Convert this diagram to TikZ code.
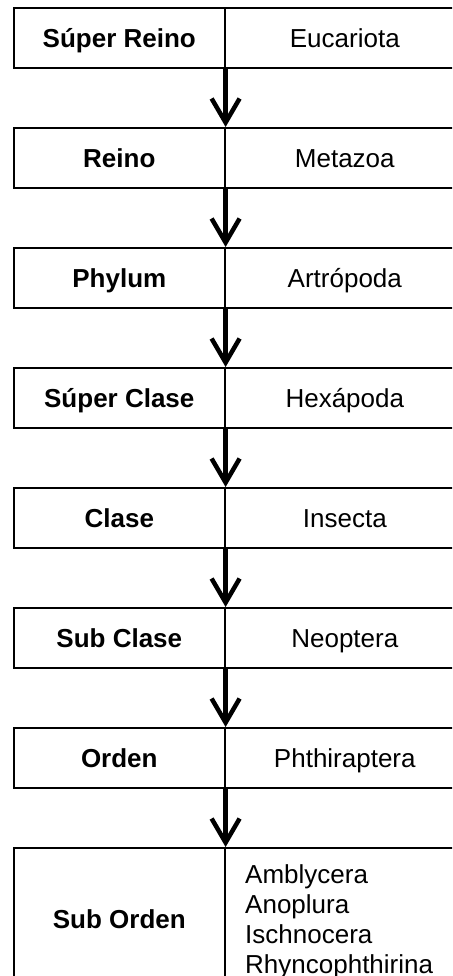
\documentclass[tikz,border=0pt]{standalone}
\usepackage{fontspec}
\setmainfont{Liberation Sans}
\usetikzlibrary{arrows.meta}
\begin{document}
\begin{tikzpicture}[x=1pt,y=1pt,
  cellL/.style={draw=black, line width=1.6pt, minimum width=211pt, minimum height=60pt, inner sep=0pt, text height=20pt, text depth=0pt, anchor=north west, font=\fontsize{26}{30}\selectfont\bfseries},
  cellR/.style={draw=black, line width=1.6pt, minimum width=240pt, minimum height=60pt, inner sep=0pt, text height=20pt, text depth=0pt, anchor=north west, font=\fontsize{26}{30}\selectfont},
  flow/.style={line width=4.5pt, -{Straight Barb[length=24pt, width=28pt, line width=4.5pt]}}]
\useasboundingbox (0,0) rectangle (452,-976);
\clip (0,0) rectangle (452,-976);
\node[cellL] (l1) at (13,-7) {Súper Reino};
\node[cellR] (r1) at (224,-7) {Eucariota};
\node[cellL] (l2) at (13,-127) {Reino};
\node[cellR] (r2) at (224,-127) {Metazoa};
\node[cellL] (l3) at (13,-247) {Phylum};
\node[cellR] (r3) at (224,-247) {Artrópoda};
\node[cellL] (l4) at (13,-367) {Súper Clase};
\node[cellR] (r4) at (224,-367) {Hexápoda};
\node[cellL] (l5) at (13,-487) {Clase};
\node[cellR] (r5) at (224,-487) {Insecta};
\node[cellL] (l6) at (13,-607) {Sub Clase};
\node[cellR] (r6) at (224,-607) {Neoptera};
\node[cellL] (l7) at (13,-727) {Orden};
\node[cellR] (r7) at (224,-727) {Phthiraptera};
\node[cellL, minimum height=142pt] (l8) at (13,-847) {Sub Orden};
\node[cellR, minimum height=142pt, text height=0pt] (r8) at (224,-847) {};
\node[anchor=north west, inner sep=0pt, align=left, font=\fontsize{26}{30}\selectfont] (sub) at (245,-864) {Amblycera\\Anoplura\\Ischnocera\\Rhyncophthirina};
\foreach \a/\b in {1/2,2/3,3/4,4/5,5/6,6/7,7/8}
  \draw[flow] (l\a.south east) -- (l\b.north east);
\end{tikzpicture}
\end{document}
